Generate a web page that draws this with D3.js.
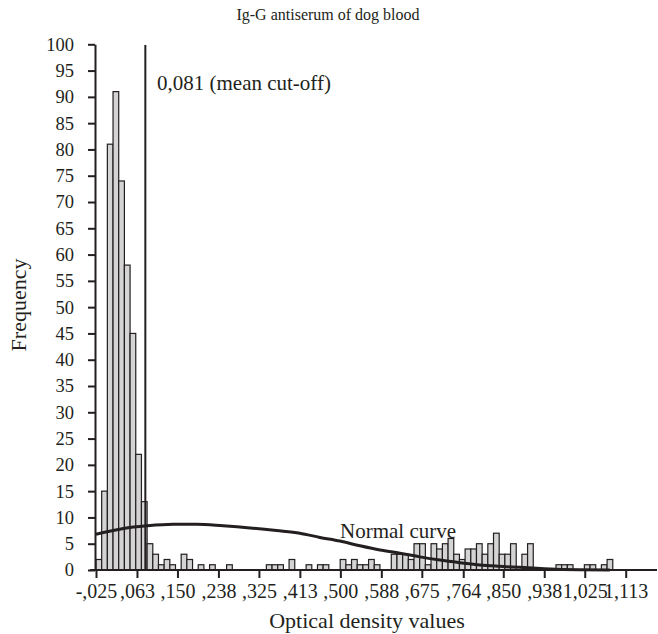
<!DOCTYPE html>
<html>
<head>
<meta charset="utf-8">
<script src="https://cdn.jsdelivr.net/npm/d3@7.9.0/dist/d3.min.js"></script>
<style>
  html, body { margin: 0; padding: 0; background: #fff; }
  svg text { font-family: "Liberation Serif", "Times New Roman", serif; fill: #231f20; }
</style>
</head>
<body>
<div id="chart"></div>
<script>
// histogram bins start at binStart, each binWidth wide
const binStart = -0.025;
const binWidth = 0.0122;
const counts = [
  2, 15, 81, 91, 74, 58, 45, 22, 13, 5,
  3, 1, 2, 1, 0, 3, 2, 0, 1, 0,
  1, 0, 0, 1, 0, 0, 0, 0, 0, 0,
  1, 1, 1, 0, 2, 0, 0, 1, 0, 1,
  1, 0, 0, 2, 1, 2, 1, 1, 2, 1,
  0, 0, 3, 3, 3, 2, 5, 5, 1, 5,
  4, 5, 6, 3, 2, 4, 4, 5, 3, 5,
  7, 3, 3, 5, 0, 3, 5, 0, 0, 0,
  0, 1, 1, 1, 0, 0, 1, 1, 0, 1,
  2
];

// normal curve
const curveX = [-0.025, 0.034, 0.084, 0.141, 0.191, 0.248, 0.306, 0.363, 0.413, 0.456,
  0.499, 0.542, 0.585, 0.628, 0.671, 0.714, 0.757, 0.800, 0.842, 0.885, 0.939, 1.014, 1.079];
const curveY = [6.8, 7.9, 8.4, 8.7, 8.7, 8.4, 8.0, 7.5, 7.0, 6.2,
  5.5, 4.6, 3.8, 3.2, 2.5, 1.9, 1.4, 0.95, 0.7, 0.5, 0.25, 0.05, 0];

const xTicks = [-0.025, 0.063, 0.150, 0.238, 0.325, 0.413, 0.500, 0.588, 0.675, 0.764, 0.850, 0.938, 1.025, 1.113];
const xTickLabels = ['-,025', ',063', ',150', ',238', ',325', ',413', ',500', ',588', ',675', ',764', ',850', ',938', '1,025', '1,113'];
const yTicks = d3.range(0, 101, 5);

const cutoff = 0.081;
const cutoffLabel = '0,081 (mean cut-off)';

const W = 658, H = 634;
const ink = '#231f20';

const x = d3.scaleLinear().domain([-0.025, 1.113]).range([96, 625.7]);
const y = d3.scaleLinear().domain([0, 100]).range([570, 44.3]);

const svg = d3.select('#chart').append('svg').attr('width', W).attr('height', H);

// bars
svg.append('g').selectAll('rect')
  .data(counts.map((c, i) => ({ c, x0: binStart + i * binWidth })).filter(d => d.c > 0))
  .enter().append('rect')
  .attr('x', d => x(d.x0))
  .attr('width', d => x(d.x0 + binWidth) - x(d.x0))
  .attr('y', d => y(d.c))
  .attr('height', d => y(0) - y(d.c))
  .attr('fill', '#d4d4d4')
  .attr('stroke', ink)
  .attr('stroke-width', 1.2);

// normal curve
const line = d3.line().x(d => x(d[0])).y(d => y(d[1])).curve(d3.curveMonotoneX);
svg.append('path')
  .datum(curveX.map((v, i) => [v, curveY[i]]))
  .attr('d', line)
  .attr('fill', 'none')
  .attr('stroke', ink)
  .attr('stroke-width', 3);

svg.append('text').attr('x', 340).attr('y', 538)
  .attr('font-size', 21).text('Normal curve');

// cut-off line
svg.append('line')
  .attr('x1', x(cutoff)).attr('x2', x(cutoff))
  .attr('y1', y(0)).attr('y2', 45)
  .attr('stroke', ink).attr('stroke-width', 2);
svg.append('text').attr('x', 157).attr('y', 90)
  .attr('font-size', 21).text(cutoffLabel);

// x axis
svg.append('line').attr('x1', 90).attr('x2', 657).attr('y1', y(0)).attr('y2', y(0))
  .attr('stroke', ink).attr('stroke-width', 2);
const xa = svg.append('g').attr('transform', `translate(0,${y(0)})`)
  .call(d3.axisBottom(x).tickValues(xTicks).tickSize(8).tickSizeOuter(0)
    .tickFormat((d, i) => xTickLabels[i]));
xa.select('.domain').remove();
xa.selectAll('line').attr('stroke', ink).attr('stroke-width', 2);
xa.selectAll('text').attr('font-size', 20).attr('font-family', '"Liberation Serif", serif')
  .attr('fill', ink).attr('dy', '0.85em');

// y axis
const ya = svg.append('g').attr('transform', 'translate(95,0)')
  .call(d3.axisLeft(y).tickValues(yTicks).tickSize(7).tickSizeOuter(0));
ya.select('.domain').attr('stroke', ink).attr('stroke-width', 2);
ya.selectAll('line').attr('stroke', ink).attr('stroke-width', 2);
ya.selectAll('text').attr('font-size', 18.5).attr('font-family', '"Liberation Serif", serif')
  .attr('fill', ink).attr('x', -21);

// titles
svg.append('text').attr('x', 328).attr('y', 20).attr('text-anchor', 'middle')
  .attr('font-size', 16).text('Ig-G antiserum of dog blood');
svg.append('text').attr('x', 367).attr('y', 628).attr('text-anchor', 'middle')
  .attr('font-size', 22).text('Optical density values');
svg.append('text').attr('transform', 'translate(26,305) rotate(-90)').attr('text-anchor', 'middle')
  .attr('font-size', 22).text('Frequency');
</script>
</body>
</html>
